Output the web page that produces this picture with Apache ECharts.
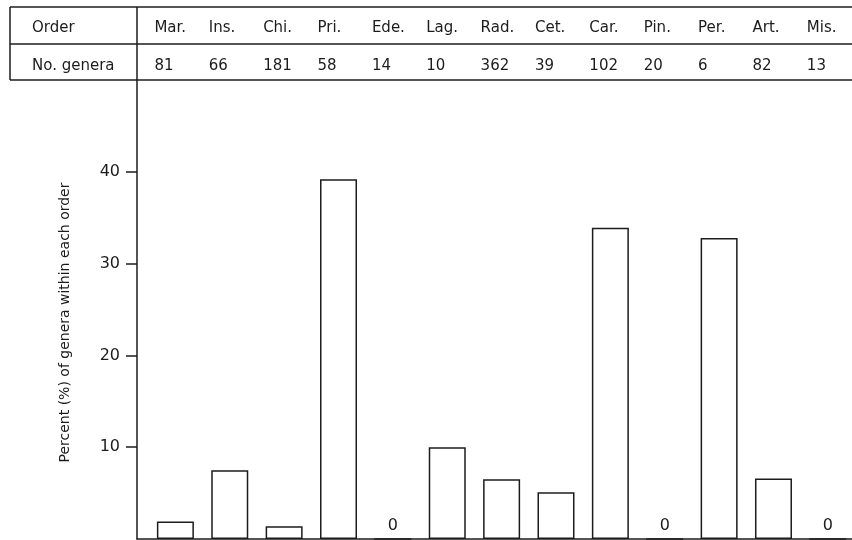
<!DOCTYPE html>
<html>
<head>
<meta charset="utf-8">
<script src="https://cdn.jsdelivr.net/npm/echarts@6/dist/echarts.min.js"></script>
<style>
html, body { margin: 0; padding: 0; background: #fff; }
#main { width: 852px; height: 540px; }
</style>
</head>
<body>
<div id="main"></div>
<script>
var orders = ['Mar.', 'Ins.', 'Chi.', 'Pri.', 'Ede.', 'Lag.', 'Rad.', 'Cet.', 'Car.', 'Pin.', 'Per.', 'Art.', 'Mis.'];
var genera = [81, 66, 181, 58, 14, 10, 362, 39, 102, 20, 6, 82, 13];
var percent = [1.9, 7.5, 1.4, 39.2, 0, 10.0, 6.5, 5.1, 33.9, 0, 32.8, 6.6, 0];
var yTicks = [10, 20, 30, 40];

var font = 'DejaVu Sans';
var ink = '#1c1c1c';

var myChart = echarts.init(document.getElementById('main'));

var option = {
	backgroundColor: '#fff',
	animation: false,
	grid: {
		left: 137,
		right: 0,
		top: 80,
		bottom: 1
	},
	xAxis: {
		type: 'value',
		min: -0.706,
		max: 12.444,
		axisLine: {
			show: true,
			onZero: false,
			lineStyle: { color: ink, width: 1.5 }
		},
		axisTick: { show: false },
		axisLabel: { show: false },
		splitLine: { show: false }
	},
	yAxis: {
		type: 'value',
		min: 0,
		max: 50,
		name: 'Percent (%) of genera within each order',
		nameLocation: 'middle',
		nameRotate: 90,
		nameGap: 65,
		nameTextStyle: {
			fontFamily: font,
			fontSize: 14,
			color: ink,
			padding: [0, 26, 0, 0]
		},
		axisLine: {
			show: true,
			onZero: false,
			lineStyle: { color: ink, width: 1.5 }
		},
		axisTick: {
			show: true,
			length: 11,
			customValues: yTicks,
			lineStyle: { color: ink, width: 1.5 }
		},
		axisLabel: {
			customValues: yTicks,
			margin: 17,
			fontFamily: font,
			fontSize: 16,
			color: ink
		},
		splitLine: { show: false }
	},
	series: [{
		type: 'bar',
		barWidth: 37,
		data: percent.map(function (v, i) { return [i, v]; }),
		itemStyle: {
			color: '#fff',
			borderColor: ink,
			borderWidth: 1.5
		},
		label: {
			show: true,
			position: 'top',
			distance: 4,
			fontFamily: font,
			fontSize: 16,
			color: ink,
			formatter: function (p) { return p.value[1] === 0 ? '0' : ''; }
		}
	}]
};
myChart.setOption(option, true);

// table above the plot
var rows = [7, 44, 80];
var line = { stroke: ink, lineWidth: 1.5 };
var textStyle = { fontFamily: font, fontSize: 15, fill: ink, verticalAlign: 'middle' };
var graphic = [];
rows.forEach(function (y) {
	graphic.push({ type: 'line', shape: { x1: 10, y1: y, x2: 852, y2: y }, style: line });
});
graphic.push({ type: 'line', shape: { x1: 10, y1: 7, x2: 10, y2: 80 }, style: line });
graphic.push({ type: 'line', shape: { x1: 137, y1: 7, x2: 137, y2: 80 }, style: line });
graphic.push({ type: 'text', x: 32, y: 28, style: Object.assign({ text: 'Order' }, textStyle) });
graphic.push({ type: 'text', x: 32, y: 66, style: Object.assign({ text: 'No. genera' }, textStyle) });
for (var i = 0; i < orders.length; i++) {
	var x = myChart.convertToPixel({ xAxisIndex: 0 }, i) - 21;
	graphic.push({ type: 'text', x: x, y: 28, style: Object.assign({ text: orders[i] }, textStyle) });
	graphic.push({ type: 'text', x: x, y: 66, style: Object.assign({ text: String(genera[i]) }, textStyle) });
}
myChart.setOption({ graphic: graphic });
</script>
</body>
</html>
